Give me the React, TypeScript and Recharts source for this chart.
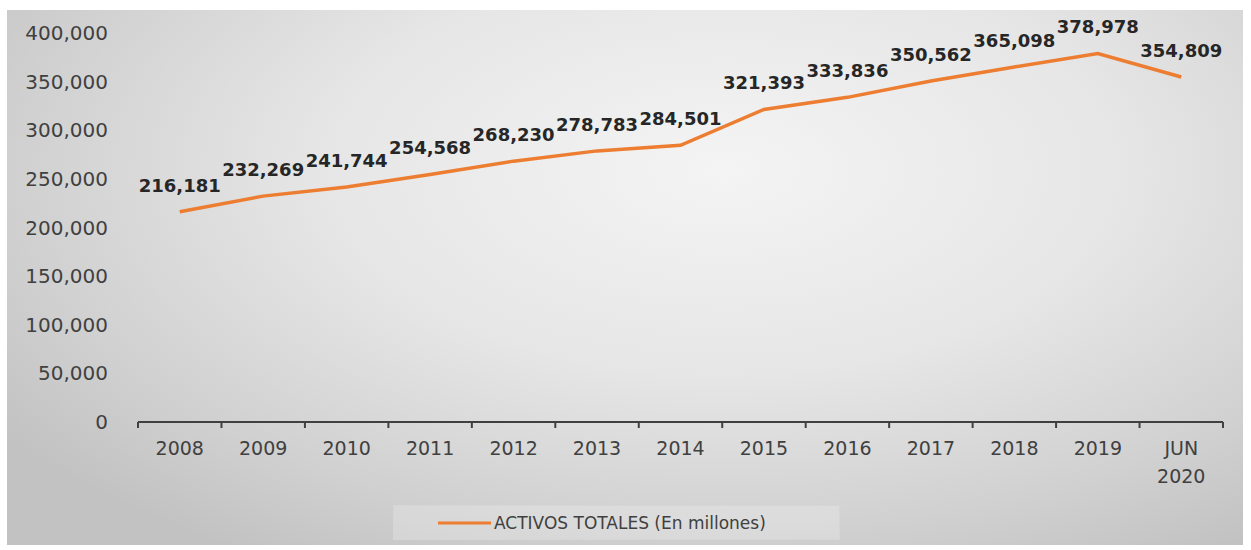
import { LineChart, Line, XAxis, YAxis, LabelList, Legend } from 'recharts';

const years = ['2008', '2009', '2010', '2011', '2012', '2013', '2014', '2015', '2016', '2017', '2018', '2019', 'JUN 2020'];
const activos = [216181, 232269, 241744, 254568, 268230, 278783, 284501, 321393, 333836, 350562, 365098, 378978, 354809];
const yTicks = [0, 50000, 100000, 150000, 200000, 250000, 300000, 350000, 400000];

const data = years.map((year, i) => ({ year, activos: activos[i] }));

const FONT = '"DejaVu Sans", sans-serif';
const ORANGE = '#ED7D31';
const fmt = (v: number) => v.toLocaleString('en-US');

// tickSize + tickMargin below, so the tick marks can start on the axis line
const TICK_GAP = 20;

function YearTick(props: any) {
  const { x, y, payload, index } = props;
  const half = payload.offset ?? 0;
  const lines = String(payload.value).split(' ');
  const axisY = y - TICK_GAP;
  return (
    <g>
      <line x1={x - half} y1={axisY} x2={x - half} y2={axisY + 6} stroke="#404040" strokeWidth={2} />
      {index === years.length - 1 && (
        <line x1={x + half} y1={axisY} x2={x + half} y2={axisY + 6} stroke="#404040" strokeWidth={2} />
      )}
      <text x={x} y={y} textAnchor="middle" fill="#404040" fontSize={19} fontFamily={FONT}>
        {lines.map((l, i) => (
          <tspan key={i} x={x} dy={i === 0 ? '0.71em' : 28}>
            {l}
          </tspan>
        ))}
      </text>
    </g>
  );
}

function LegendBox() {
  return (
    <div
      style={{
        height: 35,
        display: 'flex',
        alignItems: 'center',
        background: 'rgba(255,255,255,0.22)',
        border: '1px solid #d6d6d6',
        boxSizing: 'border-box',
        fontFamily: FONT,
        fontSize: 17,
        color: '#404040',
      }}
    >
      <svg width={100} height={10}>
        <line x1={44} y1={5} x2={97} y2={5} stroke={ORANGE} strokeWidth={3} />
      </svg>
      <span>ACTIVOS TOTALES (En millones)</span>
    </div>
  );
}

export default function App() {
  return (
    <div style={{ position: 'absolute', left: 0, top: 0, width: 1251, height: 550, background: '#fff' }}>
      <div
        style={{
          position: 'absolute',
          left: 7,
          top: 10,
          width: 1236,
          height: 535,
          background: 'radial-gradient(ellipse 72% 85% at 58% 30%, #f4f4f4 0%, #e6e6e6 45%, #d0d0d0 80%, #c2c2c2 100%)',
        }}
      />
      <div style={{ position: 'absolute', left: 0, top: 0 }}>
        <LineChart width={1251} height={550} data={data} margin={{ top: 33, right: 28, bottom: 10, left: 0 }}>
          <XAxis
            dataKey="year"
            scale="band"
            height={83}
            axisLine={{ stroke: '#404040', strokeWidth: 2 }}
            tickLine={false}
            tickSize={6}
            tickMargin={TICK_GAP - 6}
            interval={0}
            tick={<YearTick />}
          />
          <YAxis
            width={138}
            domain={[0, 400000]}
            ticks={yTicks}
            interval={0}
            axisLine={false}
            tickLine={false}
            tickSize={0}
            tickMargin={30}
            tickFormatter={fmt}
            tick={{ fill: '#404040', fontSize: 20, fontFamily: FONT }}
          />
          <Legend
            verticalAlign="bottom"
            content={<LegendBox />}
            wrapperStyle={{ left: 393, width: 447, bottom: 10 }}
          />
          <Line
            type="linear"
            dataKey="activos"
            name="ACTIVOS TOTALES (En millones)"
            stroke={ORANGE}
            strokeWidth={3.5}
            dot={false}
            isAnimationActive={false}
          >
            <LabelList
              dataKey="activos"
              position="top"
              offset={20}
              formatter={(v: any) => fmt(Number(v))}
              style={{ fill: '#262626', fontSize: 18, fontWeight: 'bold', fontFamily: FONT }}
            />
          </Line>
        </LineChart>
      </div>
    </div>
  );
}
